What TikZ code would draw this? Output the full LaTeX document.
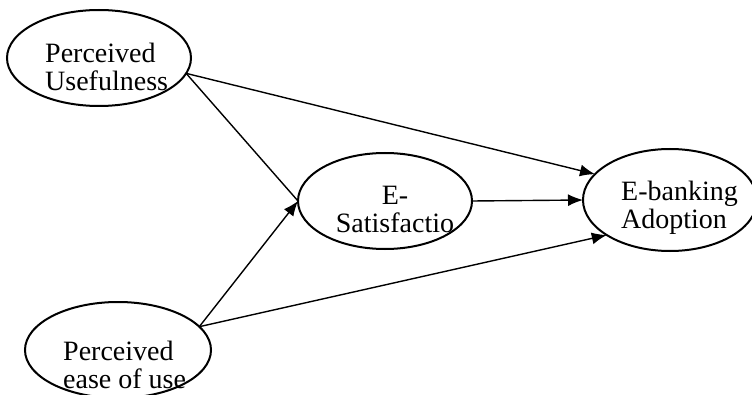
\documentclass[tikz,border=0pt]{standalone}
\usepackage{fontspec}
\setmainfont{Liberation Serif}
\usetikzlibrary{shapes.geometric,arrows.meta}
\begin{document}
\begin{tikzpicture}[x=1pt,y=1pt,>={Latex[length=15pt,width=12pt]},
  construct/.style={draw,ellipse,line width=2pt,inner sep=0pt,outer sep=0pt},
  caption/.style={inner sep=0pt,font=\fontsize{28}{28}\selectfont},
  link/.style={line width=1.4pt}]
\useasboundingbox (0,0) rectangle (752,394);
\node[construct,minimum width=184pt,minimum height=96pt] (pu) at (99,336) {};
\node[construct,minimum width=174pt,minimum height=96pt] (es) at (385,193) {};
\node[construct,minimum width=174pt,minimum height=102pt] (ea) at (670,194) {};
\node[construct,minimum width=186pt,minimum height=96pt] (pe) at (118,44) {};
\node[caption,align=left,anchor=north west] (putext) at (45,351) {Perceived\\Usefulness};
\node[caption,align=center,anchor=north] (estext) at (395,208) {E-\\Satisfactio};
\node[caption,align=left,anchor=north west] (eatext) at (621,213) {E-banking\\Adoption};
\node[caption,align=left,anchor=north west] (petext) at (63,53) {Perceived\\ease of use};
\draw[link,->] (pu.-10) -- (ea.161);
\draw[link] (pu.-10) -- (es.180);
\draw[link,->] (pe.16) -- (es.180);
\draw[link,->] (pe.16) -- (ea.209);
\draw[link,->] (es.0) -- (ea.180);
\end{tikzpicture}
\end{document}
